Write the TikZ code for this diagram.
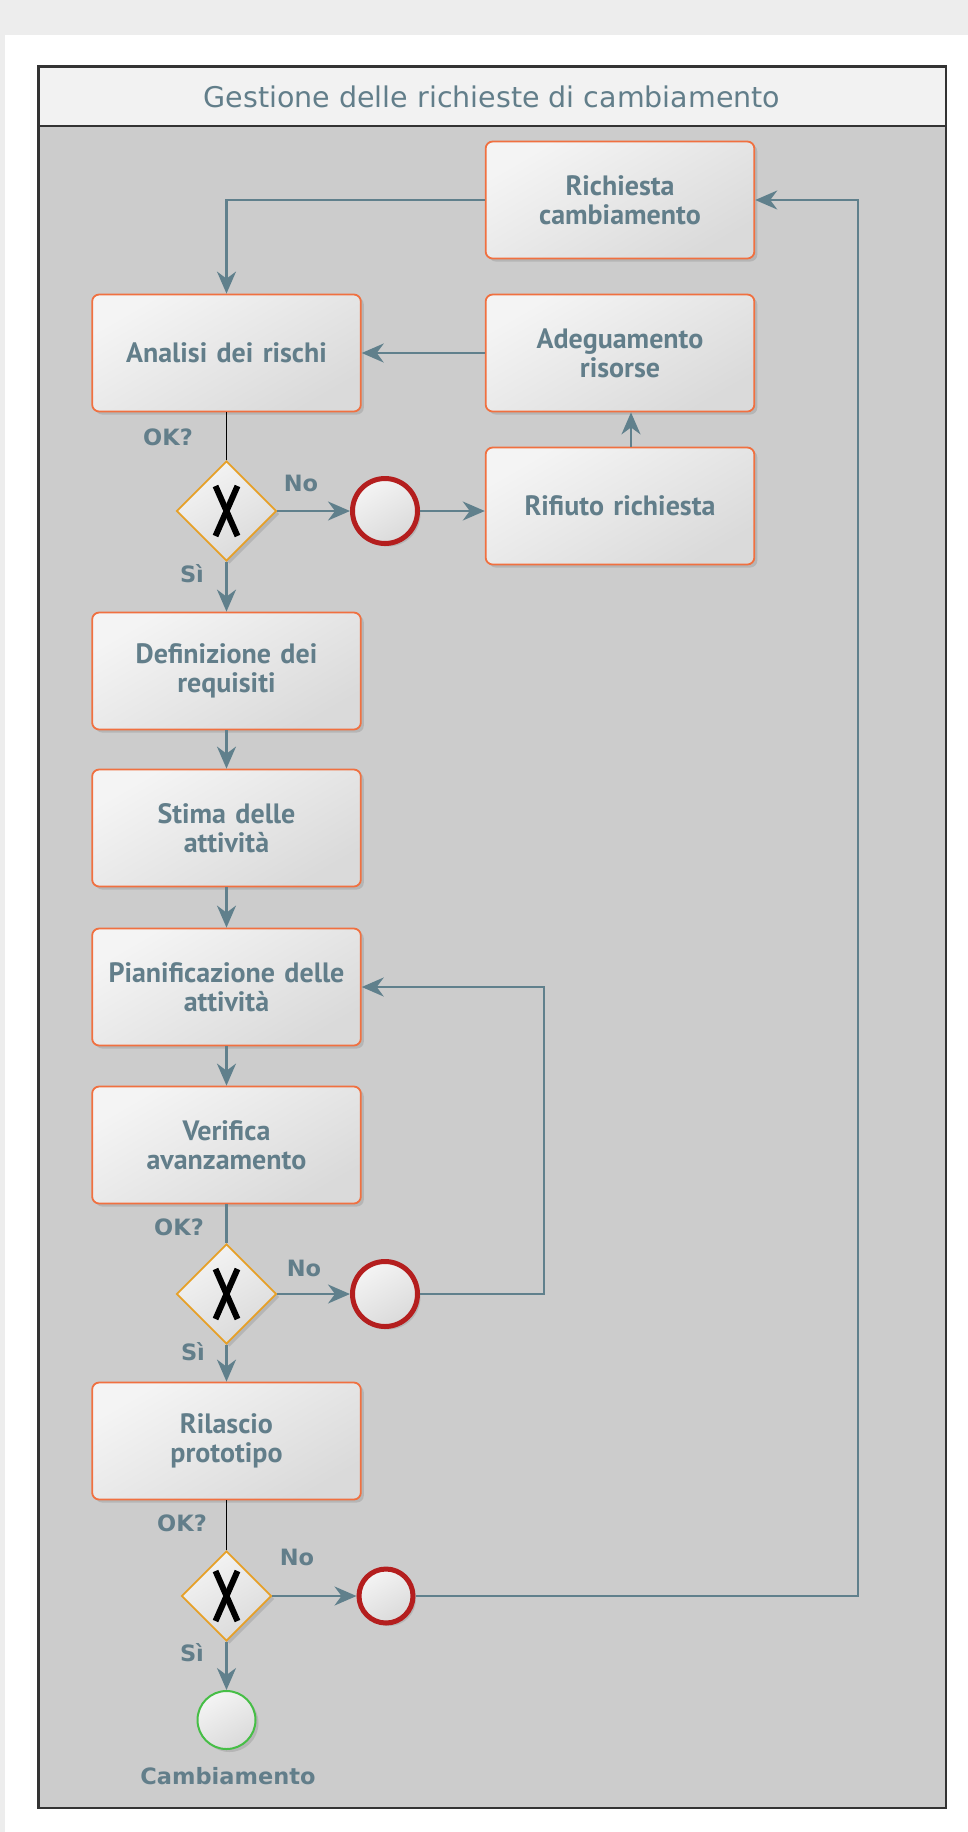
\documentclass[tikz,border=0pt]{standalone}
\usepackage{fontspec}
\setmainfont{PT Sans}
\newfontfamily\dejavu{DejaVu Sans}
\usetikzlibrary{shapes.geometric,shadows,arrows.meta}
\definecolor{slate}{RGB}{96,128,140}
\definecolor{txtslate}{RGB}{98,126,138}
\definecolor{bggray}{RGB}{237,237,237}
\definecolor{poolgray}{RGB}{204,204,204}
\definecolor{headgray}{RGB}{242,242,242}
\definecolor{boxorange}{RGB}{240,112,64}
\definecolor{gwgold}{RGB}{230,160,40}
\definecolor{evred}{RGB}{180,30,30}
\definecolor{evgreen}{RGB}{70,190,70}
\definecolor{fillA}{RGB}{244,244,244}
\definecolor{fillB}{RGB}{218,218,218}
\begin{document}
\begin{tikzpicture}[x=1pt,y=-1pt,
  shad/.style={drop shadow={shadow xshift=3pt, shadow yshift=-3pt, opacity=0.3}},
  task/.style={rectangle, rounded corners=7pt, draw=boxorange, line width=1.8pt,
    minimum width=268pt, minimum height=117pt, top color=fillA, bottom color=fillB,
    shading angle=30, shad,
    font=\bfseries\fontsize{28}{29}\selectfont, text=txtslate, align=center, text width=262pt},
  gw/.style={diamond, aspect=1, draw=gwgold, line width=1.8pt, inner sep=0pt,
    top color=fillA, bottom color=fillB, shading angle=30, shad,
    path picture={\draw[line width=6pt, black]
      ([shift={(-11pt,-25pt)}]path picture bounding box.center) -- ([shift={(11pt,25pt)}]path picture bounding box.center);
      \draw[line width=6pt, black]
      ([shift={(11pt,-25pt)}]path picture bounding box.center) -- ([shift={(-11pt,25pt)}]path picture bounding box.center);}},
  endev/.style={circle, draw=evred, line width=5pt, inner sep=0pt,
    top color=fillA, bottom color=fillB, shading angle=30, shad},
  startev/.style={circle, draw=evgreen, line width=2pt, inner sep=0pt, minimum size=58pt,
    top color=fillA, bottom color=fillB, shading angle=30, shad},
  flow/.style={draw=slate, line width=2.2pt, -{Stealth[length=22pt, width=19pt, inset=7pt]}},
  plain/.style={draw=slate, line width=2.2pt},
  blk/.style={draw=black, line width=1.8pt},
  lbl/.style={font=\dejavu\bfseries\fontsize{22.5}{26}\selectfont, text=txtslate, inner sep=0pt}
]
\useasboundingbox (0,0) rectangle (968,1832);
\fill[bggray] (0,0) rectangle (968,35);
\fill[bggray] (0,35) rectangle (5,1832);
\fill[white] (5,35) rectangle (968,1832);
% pool
\fill[poolgray] (38.5,66.5) rectangle (946,1808);
\fill[headgray] (38.5,66.5) rectangle (946,126);
\draw[line width=2.5pt, black!80] (38.5,126) -- (946,126);
\draw[line width=2.5pt, black!80] (38.5,66.5) rectangle (946,1808);
\node[font=\dejavu\fontsize{28.5}{32}\selectfont, text=txtslate] (title) at (492,97) {Gestione delle richieste di cambiamento};

% tasks
\node[task] (rich) at (620,200) {Richiesta\\cambiamento};
\node[task] (anal) at (226.5,353) {Analisi dei rischi};
\node[task] (adeg) at (620,353) {Adeguamento\\risorse};
\node[task] (rif) at (620,506) {Rifiuto richiesta};
\node[task] (def) at (226.5,671) {Definizione dei\\requisiti};
\node[task] (stima) at (226.5,828) {Stima delle\\attività};
\node[task] (pian) at (226.5,987) {Pianificazione delle\\attività};
\node[task] (ver) at (226.5,1145) {Verifica\\avanzamento};
\node[task] (ril) at (226.5,1441) {Rilascio\\prototipo};

% gateways
\node[gw, minimum size=100pt] (gw1) at (226.5,511) {};
\node[gw, minimum size=100pt] (gw2) at (226.5,1294) {};
\node[gw, minimum size=90pt] (gw3) at (226.5,1596) {};

% events
\node[endev, minimum size=65pt] (c1) at (385,511) {};
\node[endev, minimum size=65pt] (c2) at (385,1294) {};
\node[endev, minimum size=54pt] (c3) at (386,1596) {};
\node[startev] (fin) at (226.5,1720) {};

% labels
\node[lbl] (ok1) at (168,437) {OK?};
\node[lbl] (no1) at (301,483) {No};
\node[lbl] (si1) at (192,574) {Sì};
\node[lbl] (ok2) at (179,1227) {OK?};
\node[lbl] (no2) at (304,1268) {No};
\node[lbl] (si2) at (193,1352) {Sì};
\node[lbl] (ok3) at (182,1523) {OK?};
\node[lbl] (no3) at (297,1557) {No};
\node[lbl] (si3) at (192,1653) {Sì};
\node[lbl] (camb) at (228,1776) {Cambiamento};

% helper coordinates
\coordinate (up1) at (631,480);
\coordinate (lp2) at (544,1100);
\coordinate (lp3) at (858,1000);

% connectors
\draw[flow] (rich.west) -| (anal.north);
\draw[flow] (adeg.west) -- (anal.east);
\draw[flow] (rif.north -| up1) -- (adeg.south -| up1);
\draw[blk] (anal.south) -- (gw1.north);
\draw[flow] (gw1.east) -- (c1.west);
\draw[flow] (c1.east) -- (c1.east -| rif.west);
\draw[flow] (gw1.south) -- (def.north);
\draw[flow] (def.south) -- (stima.north);
\draw[flow] (stima.south) -- (pian.north);
\draw[flow] (pian.south) -- (ver.north);
\draw[plain] (ver.south) -- (gw2.north);
\draw[flow] (gw2.east) -- (c2.west);
\draw[flow] (c2.east) -- (c2.east -| lp2) |- (pian.east);
\draw[flow] (gw2.south) -- (ril.north);
\draw[blk] (ril.south) -- (gw3.north);
\draw[flow] (gw3.east) -- (c3.west);
\draw[flow] (c3.east) -- (c3.east -| lp3) |- (rich.east);
\draw[flow] (gw3.south) -- (fin.north);
\end{tikzpicture}
\end{document}
